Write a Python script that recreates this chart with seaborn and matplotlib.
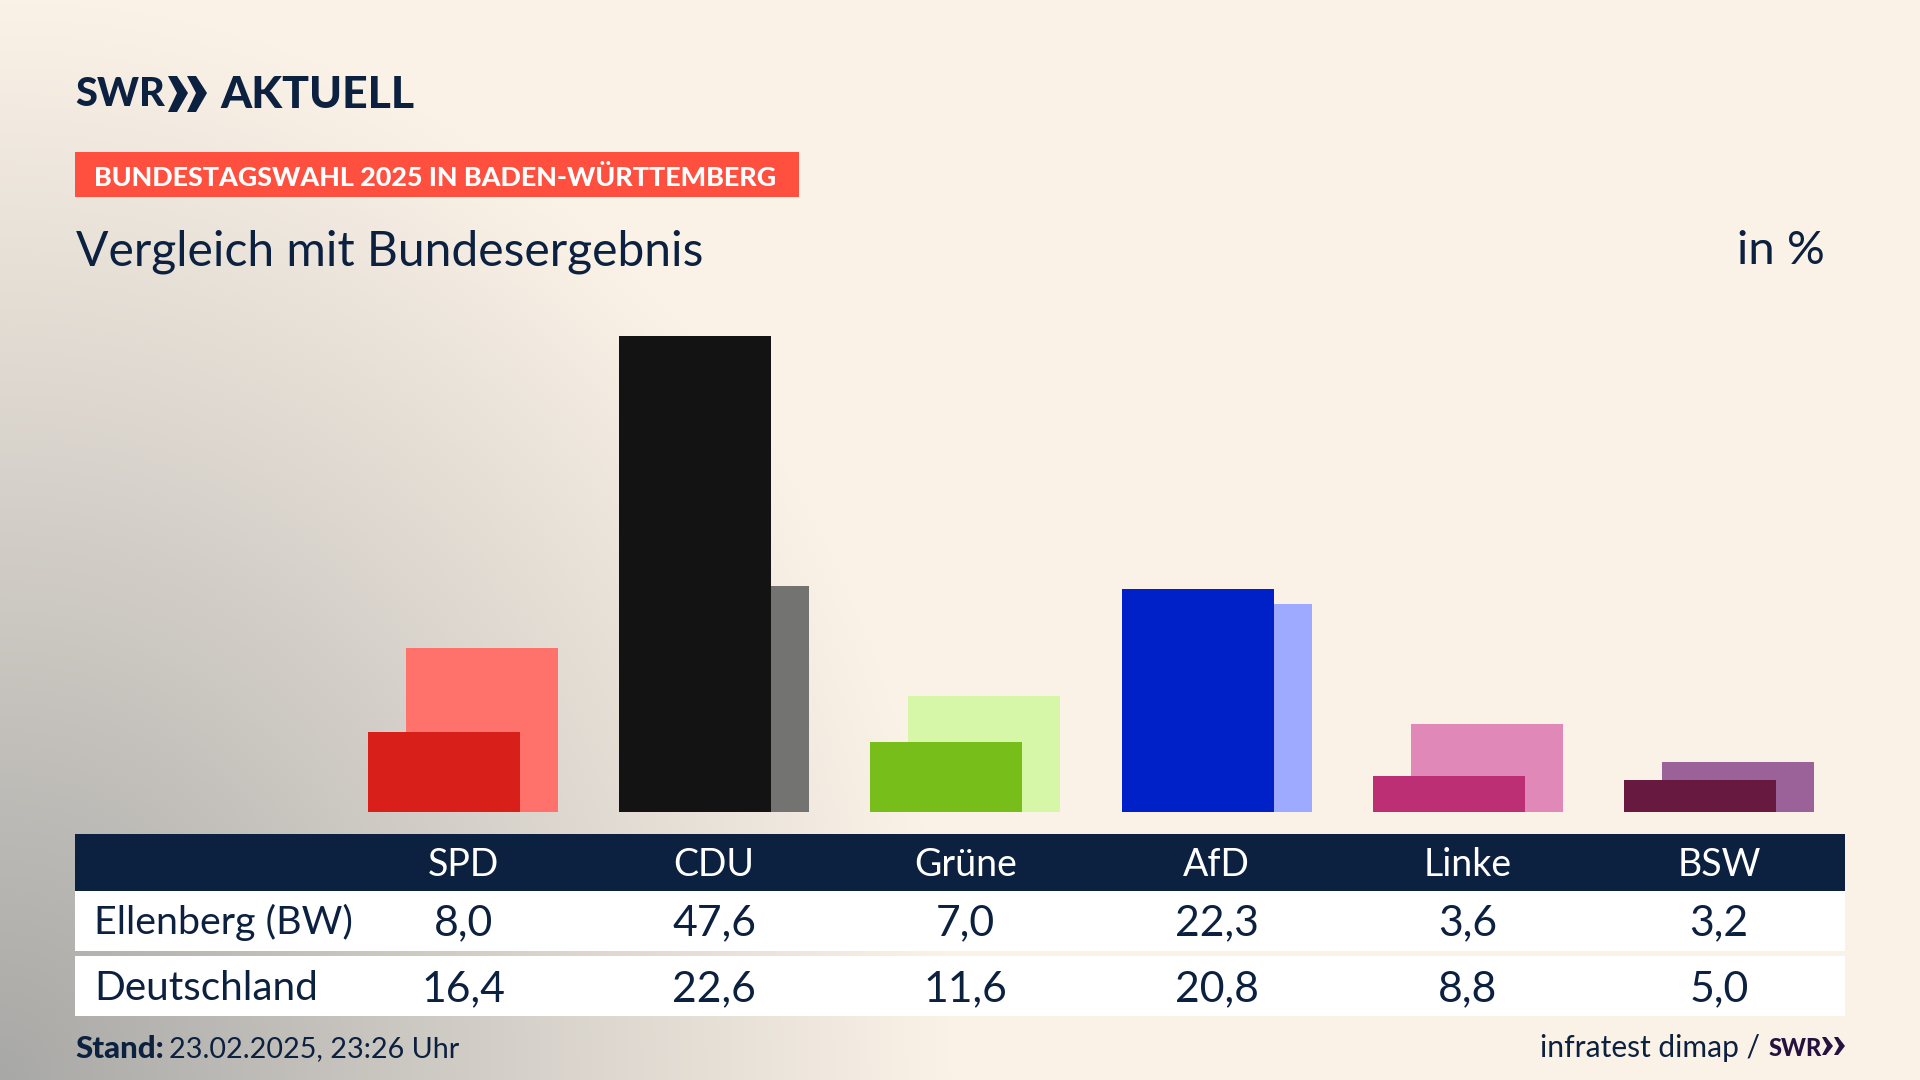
import numpy as np
import pandas as pd
import matplotlib
matplotlib.use("Agg")
import matplotlib.pyplot as plt
from matplotlib.patches import Rectangle, Polygon
import seaborn as sns

parties = ["SPD", "CDU", "Grüne", "AfD", "Linke", "BSW"]
ellenberg = [8.0, 47.6, 7.0, 22.3, 3.6, 3.2]
deutschland = [16.4, 22.6, 11.6, 20.8, 8.8, 5.0]
colors_bw = ["#D81F1A", "#131313", "#78BE1A", "#0020C8", "#BC2F75", "#67193F"]
colors_de = ["#FF716B", "#737372", "#D6F6A8", "#9EAAFF", "#E088B8", "#9B6299"]
row_labels = ["Ellenberg (BW)", "Deutschland"]

NAVY = "#0C2040"
FONT = "Lato"

sns.set_theme(style="white")
plt.rcParams["font.family"] = [FONT, "DejaVu Sans"]

fig = plt.figure(figsize=(19.2, 10.8), dpi=100)

# background, grey corner bottom left fading into cream
bg = fig.add_axes([0, 0, 1, 1], zorder=0)
yy, xx = np.mgrid[0:1080:270j, 0:1920:480j]
dist = np.sqrt((xx / 950) ** 2 + ((1080 - yy) / 1080) ** 2)
fade = np.clip(1 - dist, 0, 1)
cream = np.array([251, 242, 231]) / 255
grey = np.array([168, 168, 166]) / 255
bg.imshow(cream + (grey - cream) * fade[..., None], aspect="auto", extent=(0, 1920, 1080, 0))
bg.axis("off")

# bars, axes bottom sits on the chart baseline, 10 px per percent
bar_ax = fig.add_axes([0, (1080 - 812) / 1080, 1, 812 / 1080], zorder=1)
bar_ax.patch.set_alpha(0)
idx = np.arange(len(parties))
df = pd.DataFrame({"party": parties, "bw": ellenberg, "de": deutschland})
df["x_bw"] = idx - 0.0756
df["x_de"] = idx + 0.0756
sns.barplot(data=df, x="x_de", y="de", hue="party", palette=colors_de, dodge=False, linewidth=0,
            native_scale=True, width=0.605, saturation=1, legend=False, ax=bar_ax)
sns.barplot(data=df, x="x_bw", y="bw", hue="party", palette=colors_bw, dodge=False, linewidth=0,
            native_scale=True, width=0.605, saturation=1, legend=False, ax=bar_ax)
bar_ax.set_xlim(-463 / 251.2, (1920 - 463) / 251.2)
bar_ax.set_ylim(0, 81.2)
bar_ax.axis("off")

# everything else in pixel coordinates
ax = fig.add_axes([0, 0, 1, 1], zorder=2)
ax.set_xlim(0, 1920)
ax.set_ylim(1080, 0)
ax.axis("off")

# logo
ax.text(75, 95, "SWR", fontsize=28.6, fontweight="black", color=NAVY, va="center", ha="left")
for x0 in (168, 187):
    ax.add_patch(Polygon([(x0, 76), (x0 + 9, 76), (x0 + 20, 93), (x0 + 9, 112), (x0, 112), (x0 + 9, 93)],
                         closed=True, color=NAVY, lw=0))
ax.text(220, 95, "AKTUELL", fontsize=32, fontweight="black", color=NAVY, va="center", ha="left")

# red tag and headline
ax.add_patch(Rectangle((75, 152), 724, 45, color="#FF4F3E", lw=0))
ax.text(94, 177, "BUNDESTAGSWAHL 2025 IN BADEN-WÜRTTEMBERG", fontsize=19.4, fontweight="black",
        color="white", va="center", ha="left")
ax.text(76, 251.5, "Vergleich mit Bundesergebnis", fontsize=34.6, color=NAVY, va="center", ha="left")
ax.text(1825, 251.5, "in %", fontsize=34, color=NAVY, va="center", ha="right")

# table
ax.add_patch(Rectangle((75, 834), 1770, 57, color=NAVY, lw=0))
ax.add_patch(Rectangle((75, 891), 1770, 60, color="white", lw=0))
ax.add_patch(Rectangle((75, 956), 1770, 60, color="white", lw=0))
ax.text(94, 922.5, row_labels[0], fontsize=28.4, color=NAVY, va="center", ha="left")
ax.text(94, 988, row_labels[1], fontsize=29.2, color=NAVY, va="center", ha="left")
for i, party in enumerate(parties):
    cx = 463 + i * 251.2
    ax.text(cx, 864.5, party, fontsize=27, color="white", va="center", ha="center")
    ax.text(cx, 923.5, f"{ellenberg[i]:.1f}".replace(".", ","), fontsize=30.8, color=NAVY, va="center", ha="center")
    ax.text(cx, 989, f"{deutschland[i]:.1f}".replace(".", ","), fontsize=30.8, color=NAVY, va="center", ha="center")

# footer
ax.text(75, 1049, "Stand:", fontsize=22.5, fontweight="black", color=NAVY, va="center", ha="left")
ax.text(169, 1049, "23.02.2025, 23:26 Uhr", fontsize=20.7, color=NAVY, va="center", ha="left")
ax.text(1760, 1048, "infratest dimap /", fontsize=21.6, color=NAVY, va="center", ha="right")
ax.text(1769, 1048, "SWR", fontsize=17, fontweight="black", color="#25123F", va="center", ha="left")
for x0 in (1822, 1834):
    ax.add_patch(Polygon([(x0, 1037), (x0 + 4, 1037), (x0 + 11, 1046), (x0 + 4, 1055), (x0, 1055), (x0 + 5, 1046)],
                         closed=True, color="#25123F", lw=0))

fig.savefig("out.png", dpi=100)
